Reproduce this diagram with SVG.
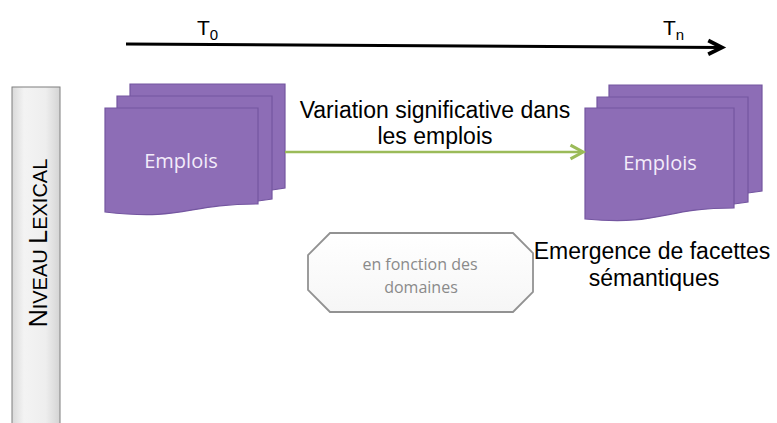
<svg xmlns="http://www.w3.org/2000/svg" width="777" height="423" viewBox="0 0 777 423">
  <style>
    .lbl { font-family: "Liberation Sans", Arial, sans-serif; fill: #000; }
    .big { font-size: 23px; text-anchor: middle; }
    .card { fill: #8d6db6; stroke: #7456a0; stroke-width: 1.2; }
    .cardtxt { font-family: "Open Sans", "Liberation Sans", sans-serif; font-size: 20px; fill: #f3ecfa; text-anchor: middle; }
    .octtxt { font-family: "Open Sans", "Liberation Sans", sans-serif; font-size: 16px; fill: #8a8a8a; text-anchor: middle; }
    .timeline { stroke: #000; stroke-width: 3; fill: none; }
    .green { stroke: #9bbb59; stroke-width: 2.5; fill: none; }
  </style>
  <defs>
    <marker id="arrBlack" markerUnits="userSpaceOnUse" markerWidth="20" markerHeight="20" refX="0" refY="0" viewBox="-14 -8 16 16" orient="auto" overflow="visible">
      <path d="M-11,-5.5 L0,0 L-11,5.5" fill="none" stroke="#000" stroke-width="3" stroke-linejoin="miter"/>
    </marker>
    <marker id="arrGreen" markerUnits="userSpaceOnUse" markerWidth="20" markerHeight="20" refX="0" refY="0" viewBox="-14 -8 16 16" orient="auto" overflow="visible">
      <path d="M-10,-5.5 L0,0 L-10,5.5" fill="none" stroke="#9bbb59" stroke-width="2.5"/>
    </marker>
    <linearGradient id="barGrad" x1="0" y1="0" x2="1" y2="0">
      <stop offset="0" stop-color="#d9d9d9"/>
      <stop offset="0.25" stop-color="#f3f3f3"/>
      <stop offset="0.7" stop-color="#eeeeee"/>
      <stop offset="1" stop-color="#d4d4d4"/>
    </linearGradient>
    <linearGradient id="octGrad" x1="0" y1="0" x2="0" y2="1">
      <stop offset="0" stop-color="#ffffff"/>
      <stop offset="1" stop-color="#f6f6f6"/>
    </linearGradient>
  </defs>

  <!-- Level bar -->
  <g id="niveau-lexical">
    <rect x="12" y="87" width="48" height="340" fill="url(#barGrad)" stroke="#7f7f7f" stroke-width="1"/>
    <text class="lbl" transform="translate(47,243) rotate(-90)" text-anchor="middle" font-size="25">N<tspan font-size="20">IVEAU </tspan>L<tspan font-size="20">EXICAL</tspan></text>
  </g>

  <!-- Timeline labels -->
  <g id="t0">
    <text class="lbl" x="197" y="35" font-size="21">T<tspan font-size="15" dy="5">0</tspan></text>
  </g>
  <g id="tn">
    <text class="lbl" x="663" y="35" font-size="21">T<tspan font-size="15" dy="5">n</tspan></text>
  </g>

  <!-- Left Emplois stack -->
  <g id="emplois-t0">
    <path class="card" d="M130,84 H285 V188 L272,190 H130 Z"/>
    <path class="card" d="M117,96 H272 V199 L258,201 H117 Z"/>
    <path class="card" d="M105,108 H258 V204 C185,204 185,221 105,212 Z"/>
    <text class="cardtxt" x="181" y="168">Emplois</text>
  </g>

  <!-- Right Emplois stack -->
  <g id="emplois-tn">
    <path class="card" d="M609,85 H762 V191 L748,193 H609 Z"/>
    <path class="card" d="M597,97 H748 V202 L734,204 H597 Z"/>
    <path class="card" d="M585,108 H734 V208 C662,208 662,226 585,219 Z"/>
    <text class="cardtxt" x="660" y="170">Emplois</text>
  </g>

  <!-- Variation label -->
  <g id="variation-label">
    <text class="lbl big" x="435" y="118">Variation significative dans</text>
    <text class="lbl big" x="435" y="144">les emplois</text>
  </g>

  <!-- Emergence label -->
  <g id="emergence-label">
    <text class="lbl big" x="652" y="259">Emergence de facettes</text>
    <text class="lbl big" x="654" y="286">sémantiques</text>
  </g>

  <!-- Octagon -->
  <g id="domaines">
    <polygon points="330,233 513,233 533,253 533,292 513,312 330,312 308,290 308,255" fill="url(#octGrad)" stroke="#929292" stroke-width="1.8"/>
    <text class="octtxt" x="420" y="270">en fonction des</text>
    <text class="octtxt" x="421" y="293">domaines</text>
  </g>

  <!-- Connectors -->
  <g id="connectors">
    <line class="timeline" x1="126" y1="44" x2="722" y2="47.5" marker-end="url(#arrBlack)"/>
    <line class="green" x1="285" y1="152" x2="583" y2="152" marker-end="url(#arrGreen)"/>
  </g>
</svg>
